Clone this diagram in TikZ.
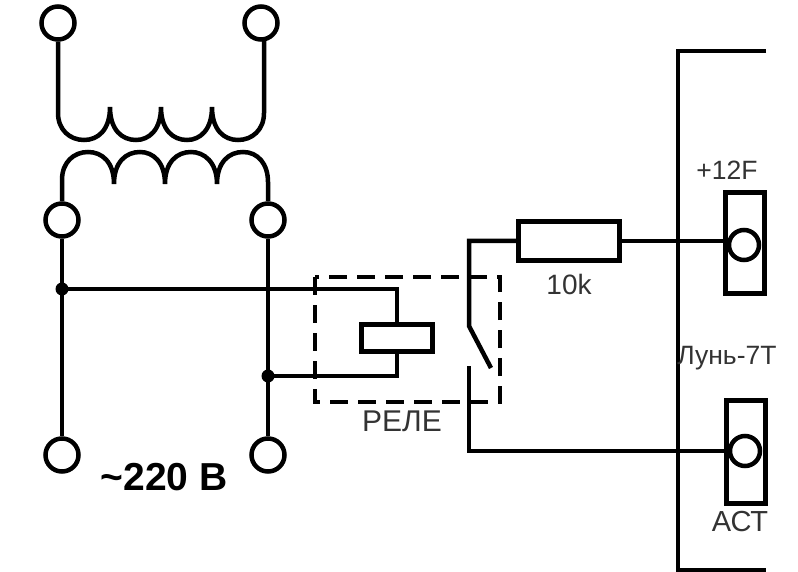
\documentclass[tikz,border=0pt]{standalone}
\usepackage{fontspec}
\setmainfont{Liberation Sans}
\usetikzlibrary{positioning}
\tikzset{
    wire/.style={line width=4.5pt},
    term/.style={circle, draw=black, line width=4.5pt, fill=white, minimum size=33pt, inner sep=0pt},
    pin/.style={circle, draw=black, line width=4.5pt, fill=white, minimum size=30pt, inner sep=0pt},
    block/.style={rectangle, draw=black, line width=5pt, fill=white, inner sep=0pt},
    junct/.style={circle, fill=black, minimum size=13pt, inner sep=0pt},
    lbl/.style={text=black!80, font=\fontsize{26.5}{28}\selectfont, inner sep=0pt},
}
\begin{document}
\begin{tikzpicture}[x=1pt,y=-1pt,wire]
  \useasboundingbox (0,0) rectangle (798,572);

  \node[term] (T1) at (58,23)  {};
  \node[term] (T2) at (261,23) {};
  \node[term] (T3) at (62,220) {};
  \node[term] (T4) at (268,220) {};
  \node[term] (T5) at (62,455) {};
  \node[term] (T6) at (268,455) {};

  \coordinate (J1) at (62,289);
  \coordinate (J2) at (268,376);
  \coordinate (P1) at (110,107);
  \coordinate (P2) at (161,107);
  \coordinate (P3) at (212,107);
  \coordinate (S1) at (114,184);
  \coordinate (S2) at (165,184);
  \coordinate (S3) at (217,184);

%  primary winding
  \draw (T1) -- (58,113) .. controls (58,130) and (70,140) .. (84,140)
        .. controls (98,140) and (110,130) .. (P1)
        .. controls (110,130) and (122,140) .. (136,140)
        .. controls (149,140) and (161,130) .. (P2)
        .. controls (161,130) and (173,140) .. (187,140)
        .. controls (200,140) and (212,130) .. (P3)
        .. controls (212,130) and (224,140) .. (238,140)
        .. controls (252,140) and (264,130) .. (264,113) -- (264,39);

%  secondary winding
  \draw (T3) -- (62,180) .. controls (62,162) and (74,152) .. (88,152)
        .. controls (102,152) and (114,162) .. (S1)
        .. controls (114,162) and (126,152) .. (140,152)
        .. controls (153,152) and (165,162) .. (S2)
        .. controls (165,162) and (177,152) .. (191,152)
        .. controls (204,152) and (217,162) .. (S3)
        .. controls (217,162) and (229,152) .. (243,152)
        .. controls (258,152) and (268,164) .. (268,182) -- (T4);

  \draw (T3) -- (T5);
  \draw (T4) -- (T6);

%  relay
  \node[block, minimum width=71pt, minimum height=27pt] (Coil) at (397,338) {};
  \draw (J1) -| (Coil);
  \draw (J2) -| (Coil);
  \node[junct] at (J1) {};
  \node[junct] at (J2) {};
  \draw[dashed, dash pattern=on 18pt off 10pt] (315,277) rectangle (500,402);
  \node[lbl, font=\fontsize{30}{30}\selectfont] (Rele) at (402,421) {РЕЛЕ};

%  contact and resistor
  \node[block, minimum width=101pt, minimum height=39pt] (Res) at (569,241) {};
  \node[lbl, font=\fontsize{28}{28}\selectfont, below=9pt of Res] (ResVal) {10k};
  \coordinate (K1) at (469,326);
  \coordinate (K2) at (491,368);
  \coordinate (K3) at (469,366);
  \draw (Res.west) -| (K1) -- (K2);

%  device
  \draw (766,51) -- (678,51) -- (678,570) -- (766,570);
  \node[block, minimum width=39pt, minimum height=101pt] (Box1) at (745,243) {};
  \node[block, minimum width=39pt, minimum height=103pt] (Box2) at (746,452) {};
  \draw (Res.east) -- (Res.east -| Box1.west);
  \draw (K3) |- (Box2.west |- 0,451);
  \node[pin] (Pin1) at (744,245) {};
  \node[pin] (Pin2) at (745,451) {};

  \node[lbl] (Pow) at (727,170) {+12F};
  \node[lbl] (Dev) at (727,358) {Лунь-7Т};
  \node[lbl, font=\fontsize{29}{29}\selectfont] (Ast) at (740,522) {АСТ};
  \node[lbl, text=black, font=\bfseries\fontsize{39}{39}\selectfont] (Volt) at (164,477) {\char"007E 220 В};
\end{tikzpicture}
\end{document}
